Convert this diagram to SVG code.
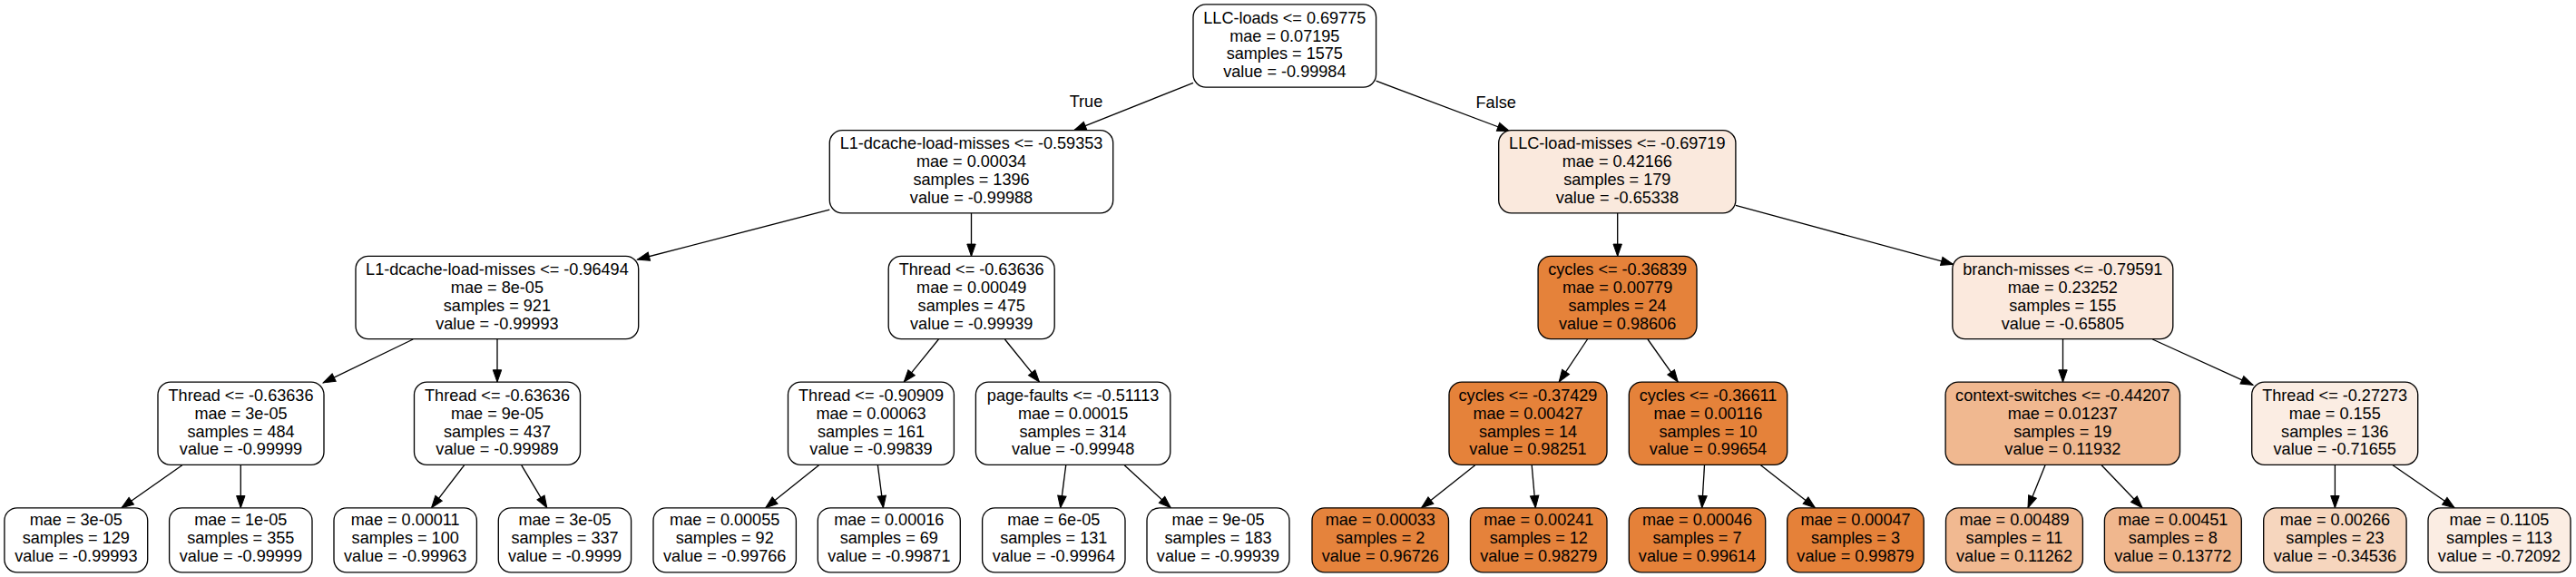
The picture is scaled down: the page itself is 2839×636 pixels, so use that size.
<svg xmlns="http://www.w3.org/2000/svg" width="2839" height="636" viewBox="0 0 2839 636">
<style>
.n rect{stroke:#000;stroke-width:1.33}
text{font-family:"Liberation Sans",Arial,Helvetica,sans-serif;font-size:18.1px;text-anchor:middle;fill:#000}
.e line{stroke:#000;stroke-width:1.33;marker-end:url(#arr)}
.w{fill:#ffffff}
.o{fill:#e5823a}
</style>
<defs>
<marker id="arr" markerWidth="14" markerHeight="10" refX="13.3" refY="4.7" orient="auto" markerUnits="userSpaceOnUse" overflow="visible">
<path d="M0,0 L13.3,4.7 L0,9.4 z" fill="#000" stroke="#000" stroke-width="1"/>
</marker>
</defs>
<rect width="2839" height="636" fill="#fff"/>
<g id="edges" class="e">
<line x1="1315" y1="91.3" x2="1183.7" y2="143.6"/>
<line x1="1516.6" y1="89.2" x2="1663.5" y2="144.5"/>
<line x1="914.3" y1="231.2" x2="702.5" y2="286"/>
<line x1="1070.5" y1="234.8" x2="1070.5" y2="282.4"/>
<line x1="1782.7" y1="234.8" x2="1782.7" y2="282.4"/>
<line x1="1912.9" y1="226.4" x2="2152.6" y2="291.3"/>
<line x1="455.2" y1="374" x2="356.2" y2="421.9"/>
<line x1="548" y1="373.6" x2="548" y2="421.1"/>
<line x1="1034.4" y1="374" x2="996.2" y2="421.1"/>
<line x1="1107.4" y1="374" x2="1145.5" y2="421.1"/>
<line x1="1749.5" y1="374" x2="1718.2" y2="421.1"/>
<line x1="1816" y1="374" x2="1849.3" y2="421.1"/>
<line x1="2273.5" y1="373.6" x2="2273.5" y2="421.1"/>
<line x1="2372.3" y1="374" x2="2483" y2="424.3"/>
<line x1="200.8" y1="512.8" x2="133.9" y2="559.8"/>
<line x1="265.3" y1="512.3" x2="265.3" y2="559.8"/>
<line x1="511.6" y1="512.8" x2="475.5" y2="559.8"/>
<line x1="574.8" y1="512.8" x2="602.8" y2="559.8"/>
<line x1="902.5" y1="512.8" x2="843.7" y2="559.8"/>
<line x1="967.4" y1="512.8" x2="973.5" y2="559.8"/>
<line x1="1174.7" y1="512.8" x2="1168.7" y2="559.8"/>
<line x1="1239.2" y1="512.8" x2="1290.3" y2="559.8"/>
<line x1="1625.7" y1="512.8" x2="1566.5" y2="559.8"/>
<line x1="1688.2" y1="512.8" x2="1692.3" y2="559.8"/>
<line x1="1878.5" y1="512.8" x2="1875.7" y2="559.8"/>
<line x1="1940.5" y1="512.8" x2="2000.5" y2="559.8"/>
<line x1="2254" y1="512.8" x2="2235" y2="559.8"/>
<line x1="2316.1" y1="512.8" x2="2361.1" y2="559.8"/>
<line x1="2573.4" y1="512.3" x2="2573.4" y2="559.8"/>
<line x1="2637.1" y1="512.8" x2="2705.2" y2="559.8"/>
<text x="1197" y="117.6">True</text>
<text x="1648.7" y="118.5">False</text>
</g>
<g id="n0" class="n"><rect class="w" x="1315" y="4.9" width="201.6" height="91.2" rx="14"/>
<text x="1415.8" y="25.6">LLC-loads &lt;= 0.69775</text><text x="1415.8" y="45.5">mae = 0.07195</text><text x="1415.8" y="65.3">samples = 1575</text><text x="1415.8" y="85.2">value = -0.99984</text></g>
<g id="n1" class="n"><rect class="w" x="914.3" y="143.6" width="312.4" height="91.2" rx="14"/>
<text x="1070.5" y="164.3">L1-dcache-load-misses &lt;= -0.59353</text><text x="1070.5" y="184.2">mae = 0.00034</text><text x="1070.5" y="204">samples = 1396</text><text x="1070.5" y="223.9">value = -0.99988</text></g>
<g id="n2" class="n"><rect x="1651.7" y="143.6" width="261.2" height="91.2" rx="14" fill="#fae9dd"/>
<text x="1782.3" y="164.3">LLC-load-misses &lt;= -0.69719</text><text x="1782.3" y="184.2">mae = 0.42166</text><text x="1782.3" y="204">samples = 179</text><text x="1782.3" y="223.9">value = -0.65338</text></g>
<g id="n3" class="n"><rect class="w" x="392" y="282.4" width="311.7" height="91.2" rx="14"/>
<text x="547.9" y="303.1">L1-dcache-load-misses &lt;= -0.96494</text><text x="547.9" y="323">mae = 8e-05</text><text x="547.9" y="342.8">samples = 921</text><text x="547.9" y="362.7">value = -0.99993</text></g>
<g id="n4" class="n"><rect class="w" x="979.2" y="282.4" width="183" height="91.2" rx="14"/>
<text x="1070.7" y="303.1">Thread &lt;= -0.63636</text><text x="1070.7" y="323">mae = 0.00049</text><text x="1070.7" y="342.8">samples = 475</text><text x="1070.7" y="362.7">value = -0.99939</text></g>
<g id="n5" class="n"><rect class="o" x="1695.1" y="282.4" width="174.9" height="91.2" rx="14"/>
<text x="1782.6" y="303.1">cycles &lt;= -0.36839</text><text x="1782.6" y="323">mae = 0.00779</text><text x="1782.6" y="342.8">samples = 24</text><text x="1782.6" y="362.7">value = 0.98606</text></g>
<g id="n6" class="n"><rect x="2151.8" y="282.4" width="243" height="91.2" rx="14" fill="#fbe9dd"/>
<text x="2273.3" y="303.1">branch-misses &lt;= -0.79591</text><text x="2273.3" y="323">mae = 0.23252</text><text x="2273.3" y="342.8">samples = 155</text><text x="2273.3" y="362.7">value = -0.65805</text></g>
<g id="n7" class="n"><rect class="w" x="174" y="421.1" width="183" height="91.2" rx="14"/>
<text x="265.5" y="441.8">Thread &lt;= -0.63636</text><text x="265.5" y="461.7">mae = 3e-05</text><text x="265.5" y="481.5">samples = 484</text><text x="265.5" y="501.4">value = -0.99999</text></g>
<g id="n8" class="n"><rect class="w" x="456.5" y="421.1" width="183" height="91.2" rx="14"/>
<text x="548" y="441.8">Thread &lt;= -0.63636</text><text x="548" y="461.7">mae = 9e-05</text><text x="548" y="481.5">samples = 437</text><text x="548" y="501.4">value = -0.99989</text></g>
<g id="n9" class="n"><rect class="w" x="868.5" y="421.1" width="182.9" height="91.2" rx="14"/>
<text x="960" y="441.8">Thread &lt;= -0.90909</text><text x="960" y="461.7">mae = 0.00063</text><text x="960" y="481.5">samples = 161</text><text x="960" y="501.4">value = -0.99839</text></g>
<g id="n10" class="n"><rect class="w" x="1075.4" y="421.1" width="214.4" height="91.2" rx="14"/>
<text x="1182.6" y="441.8">page-faults &lt;= -0.51113</text><text x="1182.6" y="461.7">mae = 0.00015</text><text x="1182.6" y="481.5">samples = 314</text><text x="1182.6" y="501.4">value = -0.99948</text></g>
<g id="n11" class="n"><rect class="o" x="1597" y="421.1" width="174" height="91.2" rx="14"/>
<text x="1684" y="441.8">cycles &lt;= -0.37429</text><text x="1684" y="461.7">mae = 0.00427</text><text x="1684" y="481.5">samples = 14</text><text x="1684" y="501.4">value = 0.98251</text></g>
<g id="n12" class="n"><rect class="o" x="1795.3" y="421.1" width="174.4" height="91.2" rx="14"/>
<text x="1882.5" y="441.8">cycles &lt;= -0.36611</text><text x="1882.5" y="461.7">mae = 0.00116</text><text x="1882.5" y="481.5">samples = 10</text><text x="1882.5" y="501.4">value = 0.99654</text></g>
<g id="n13" class="n"><rect x="2144.1" y="421.1" width="258.4" height="91.2" rx="14" fill="#f0b890"/>
<text x="2273.3" y="441.8">context-switches &lt;= -0.44207</text><text x="2273.3" y="461.7">mae = 0.01237</text><text x="2273.3" y="481.5">samples = 19</text><text x="2273.3" y="501.4">value = 0.11932</text></g>
<g id="n14" class="n"><rect x="2481.7" y="421.1" width="183" height="91.2" rx="14" fill="#fbede3"/>
<text x="2573.2" y="441.8">Thread &lt;= -0.27273</text><text x="2573.2" y="461.7">mae = 0.155</text><text x="2573.2" y="481.5">samples = 136</text><text x="2573.2" y="501.4">value = -0.71655</text></g>
<g id="n15" class="n"><rect class="w" x="4.9" y="559.8" width="157.8" height="71" rx="14"/>
<text x="83.8" y="579.3">mae = 3e-05</text><text x="83.8" y="599.2">samples = 129</text><text x="83.8" y="619">value = -0.99993</text></g>
<g id="n16" class="n"><rect class="w" x="186.6" y="559.8" width="157.4" height="71" rx="14"/>
<text x="265.3" y="579.3">mae = 1e-05</text><text x="265.3" y="599.2">samples = 355</text><text x="265.3" y="619">value = -0.99999</text></g>
<g id="n17" class="n"><rect class="w" x="368" y="559.8" width="157.4" height="71" rx="14"/>
<text x="446.7" y="579.3">mae = 0.00011</text><text x="446.7" y="599.2">samples = 100</text><text x="446.7" y="619">value = -0.99963</text></g>
<g id="n18" class="n"><rect class="w" x="549.3" y="559.8" width="146.3" height="71" rx="14"/>
<text x="622.5" y="579.3">mae = 3e-05</text><text x="622.5" y="599.2">samples = 337</text><text x="622.5" y="619">value = -0.9999</text></g>
<g id="n19" class="n"><rect class="w" x="720" y="559.8" width="157.4" height="71" rx="14"/>
<text x="798.7" y="579.3">mae = 0.00055</text><text x="798.7" y="599.2">samples = 92</text><text x="798.7" y="619">value = -0.99766</text></g>
<g id="n20" class="n"><rect class="w" x="901.3" y="559.8" width="157" height="71" rx="14"/>
<text x="979.8" y="579.3">mae = 0.00016</text><text x="979.8" y="599.2">samples = 69</text><text x="979.8" y="619">value = -0.99871</text></g>
<g id="n21" class="n"><rect class="w" x="1082.6" y="559.8" width="157.4" height="71" rx="14"/>
<text x="1161.3" y="579.3">mae = 6e-05</text><text x="1161.3" y="599.2">samples = 131</text><text x="1161.3" y="619">value = -0.99964</text></g>
<g id="n22" class="n"><rect class="w" x="1264" y="559.8" width="157" height="71" rx="14"/>
<text x="1342.5" y="579.3">mae = 9e-05</text><text x="1342.5" y="599.2">samples = 183</text><text x="1342.5" y="619">value = -0.99939</text></g>
<g id="n23" class="n"><rect x="1446" y="559.8" width="150.5" height="71" rx="14" fill="#e5833c"/>
<text x="1521.3" y="579.3">mae = 0.00033</text><text x="1521.3" y="599.2">samples = 2</text><text x="1521.3" y="619">value = 0.96726</text></g>
<g id="n24" class="n"><rect x="1620.5" y="559.8" width="150.5" height="71" rx="14" fill="#e5823b"/>
<text x="1695.8" y="579.3">mae = 0.00241</text><text x="1695.8" y="599.2">samples = 12</text><text x="1695.8" y="619">value = 0.98279</text></g>
<g id="n25" class="n"><rect x="1795.3" y="559.8" width="150.4" height="71" rx="14" fill="#e58139"/>
<text x="1870.5" y="579.3">mae = 0.00046</text><text x="1870.5" y="599.2">samples = 7</text><text x="1870.5" y="619">value = 0.99614</text></g>
<g id="n26" class="n"><rect x="1969.7" y="559.8" width="150.5" height="71" rx="14" fill="#e58139"/>
<text x="2045" y="579.3">mae = 0.00047</text><text x="2045" y="599.2">samples = 3</text><text x="2045" y="619">value = 0.99879</text></g>
<g id="n27" class="n"><rect x="2144.5" y="559.8" width="150.9" height="71" rx="14" fill="#f1b991"/>
<text x="2220" y="579.3">mae = 0.00489</text><text x="2220" y="599.2">samples = 11</text><text x="2220" y="619">value = 0.11262</text></g>
<g id="n28" class="n"><rect x="2319.4" y="559.8" width="150.9" height="71" rx="14" fill="#f0b78e"/>
<text x="2394.8" y="579.3">mae = 0.00451</text><text x="2394.8" y="599.2">samples = 8</text><text x="2394.8" y="619">value = 0.13772</text></g>
<g id="n29" class="n"><rect x="2494.7" y="559.8" width="157.4" height="71" rx="14" fill="#f6d6be"/>
<text x="2573.4" y="579.3">mae = 0.00266</text><text x="2573.4" y="599.2">samples = 23</text><text x="2573.4" y="619">value = -0.34536</text></g>
<g id="n30" class="n"><rect x="2676" y="559.8" width="157" height="71" rx="14" fill="#fbede3"/>
<text x="2754.5" y="579.3">mae = 0.1105</text><text x="2754.5" y="599.2">samples = 113</text><text x="2754.5" y="619">value = -0.72092</text></g>
</svg>
